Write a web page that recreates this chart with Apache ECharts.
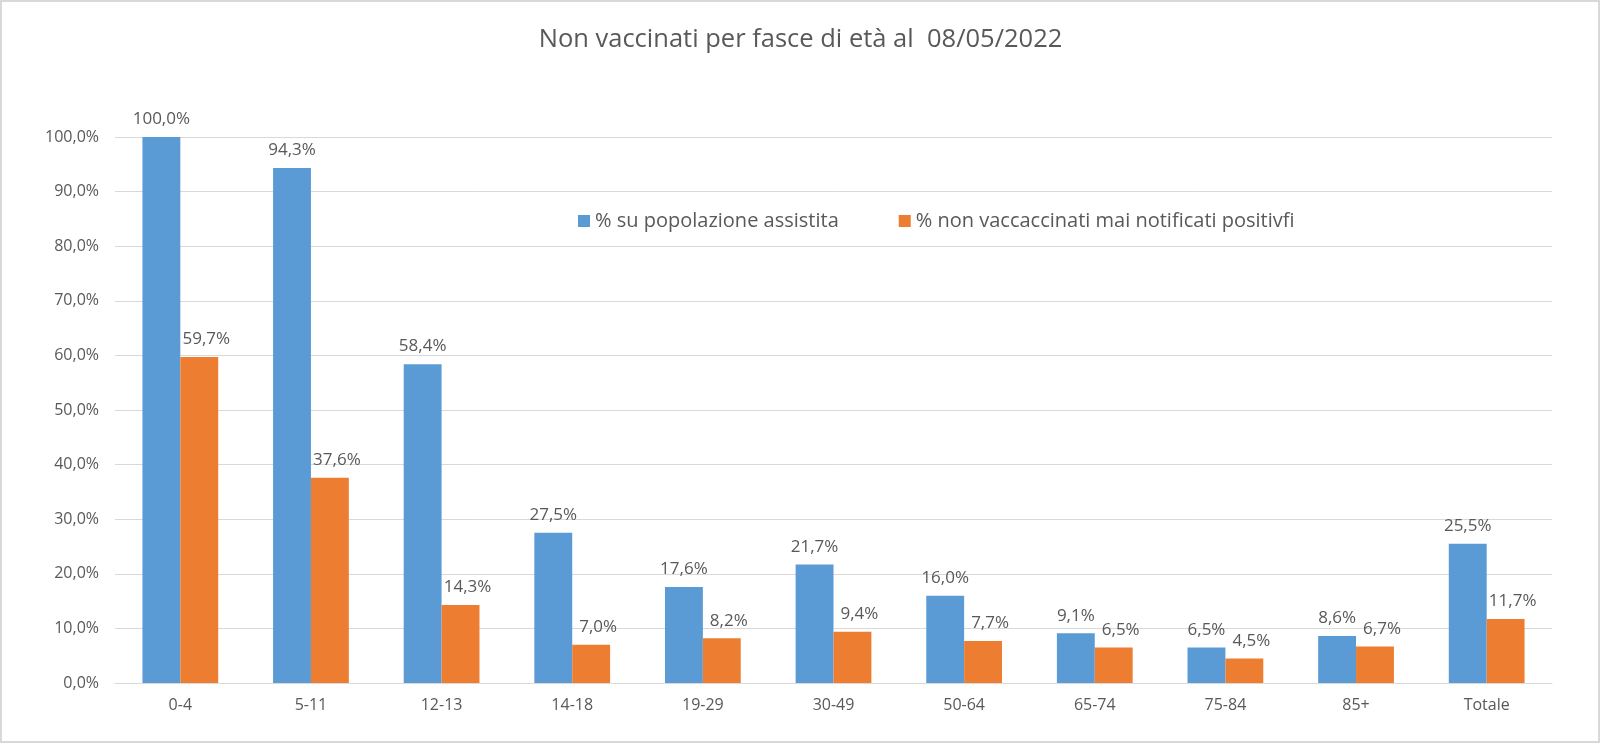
<!DOCTYPE html>
<html>
<head>
<meta charset="utf-8">
<script src="https://cdn.jsdelivr.net/npm/echarts@6/dist/echarts.min.js"></script>
<style>
html,body{margin:0;padding:0;background:#fff;}
#chart{width:1601px;height:744px;}
</style>
</head>
<body>
<div id="chart"></div>
<script>
const categories = ['0-4','5-11','12-13','14-18','19-29','30-49','50-64','65-74','75-84','85+','Totale'];
const popolazioneAssistita = [100.0, 94.3, 58.4, 27.5, 17.6, 21.7, 16.0, 9.1, 6.5, 8.6, 25.5];
const maiNotificatiPositivi = [59.7, 37.6, 14.3, 7.0, 8.2, 9.4, 7.7, 6.5, 4.5, 6.7, 11.7];
const seriesNames = ['% su popolazione assistita', '% non vaccaccinati mai notificati positivfi'];
const titleText = 'Non vaccinati per fasce di età al  08/05/2022';

const FONT = '"Open Sans", "Liberation Sans", sans-serif';
const TXT = '#595959';
const fmt = v => Number(v).toFixed(1).replace('.', ',') + '%';

const chart = echarts.init(document.getElementById('chart'));
chart.setOption({
  animation: false,
  backgroundColor: '#ffffff',
  textStyle: { fontFamily: FONT },
  title: {
    text: titleText,
    left: 'center',
    top: 22,
    textStyle: { fontFamily: FONT, fontSize: 25.5, fontWeight: 'normal', color: TXT }
  },
  legend: {
    left: 573,
    top: 206,
    itemWidth: 12,
    itemHeight: 12,
    itemGap: 60,
    icon: 'rect',
    textStyle: { fontFamily: FONT, fontSize: 20, color: TXT },
    data: seriesNames
  },
  grid: { left: 115, right: 49, top: 137, bottom: 61 },
  xAxis: {
    type: 'category',
    data: categories,
    axisLine: { lineStyle: { color: '#d9d9d9' } },
    axisTick: { show: false },
    axisLabel: { color: TXT, fontSize: 16, fontFamily: FONT, margin: 14 }
  },
  yAxis: {
    type: 'value',
    min: 0, max: 100, interval: 10,
    axisLine: { show: false },
    axisTick: { show: false },
    splitLine: { lineStyle: { color: '#d9d9d9' } },
    axisLabel: { color: TXT, fontSize: 16, fontFamily: FONT, margin: 16, formatter: fmt }
  },
  series: [
    {
      name: seriesNames[0], type: 'bar', data: popolazioneAssistita,
      itemStyle: { color: '#5B9BD5' },
      barGap: '0%', barCategoryGap: '42%',
      label: { show: true, position: 'top', distance: 9, color: TXT, fontSize: 17, fontFamily: FONT, formatter: p => fmt(p.value) }
    },
    {
      name: seriesNames[1], type: 'bar', data: maiNotificatiPositivi,
      itemStyle: { color: '#ED7D31' },
      barGap: '0%', barCategoryGap: '42%',
      label: { show: true, position: 'top', distance: 9, offset: [7, 0], color: TXT, fontSize: 17, fontFamily: FONT, formatter: p => fmt(p.value) }
    }
  ],
  graphic: [{
    type: 'rect', silent: true, z: -1,
    shape: { x: 1, y: 1, width: 1598, height: 741 },
    style: { fill: 'none', stroke: '#d9d9d9', lineWidth: 2 }
  }]
});
</script>
</body>
</html>
